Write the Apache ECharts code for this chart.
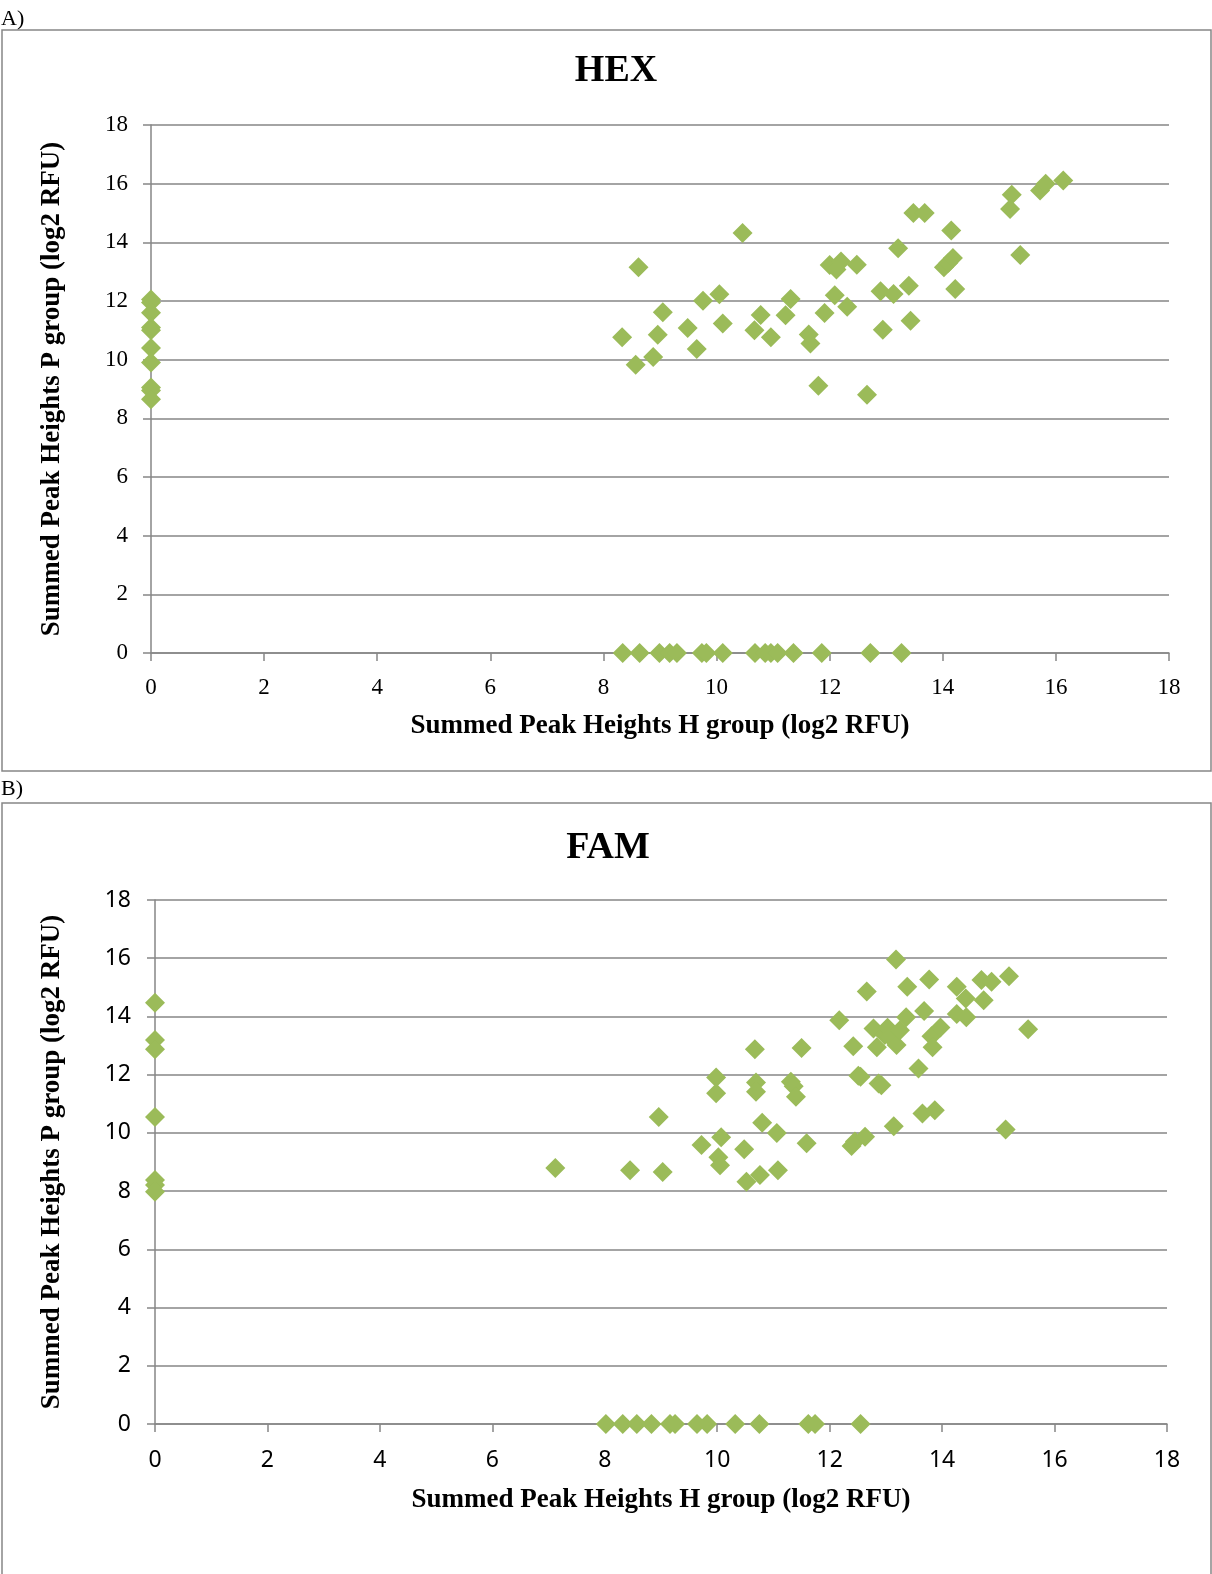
<!DOCTYPE html>
<html>
<head>
<meta charset="utf-8">
<script src="https://cdn.jsdelivr.net/npm/echarts@6/dist/echarts.min.js"></script>
<style>
html,body{margin:0;padding:0;background:#fff;}
#c{width:1212px;height:1574px;}
</style>
</head>
<body>
<div id="c"></div>
<script>
// ---- Data: HEX (panel A) ----
var hexH = [0,0,0,0,0,0,0,0,0,0,
  10.46,8.62,8.33,8.57,8.88,8.96,9.05,9.49,9.65,9.76,10.05,10.11,10.78,10.67,10.96,11.31,11.22,11.63,11.66,11.80,
  11.91,12.00,12.12,12.20,12.48,12.09,12.31,12.66,12.90,13.13,12.94,13.21,13.40,13.43,13.48,13.68,14.15,14.02,14.10,14.18,
  14.22,15.22,15.19,15.37,15.72,15.82,16.13,
  8.34,8.64,8.99,9.17,9.30,9.74,9.82,10.11,10.68,10.86,10.96,11.08,11.36,11.86,12.72,13.27];
var hexP = [12.05,11.95,11.6,11.1,11.0,10.4,9.9,9.05,8.95,8.65,
  14.32,13.15,10.76,9.83,10.09,10.85,11.62,11.08,10.36,12.01,12.23,11.23,11.52,11.00,10.76,12.07,11.51,10.86,10.55,9.11,
  11.59,13.23,13.07,13.35,13.24,12.20,11.80,8.80,12.33,12.24,11.02,13.80,12.52,11.33,15.00,15.00,14.40,13.15,13.30,13.47,
  12.41,15.62,15.14,13.57,15.77,16.00,16.11,
  0,0,0,0,0,0,0,0,0,0,0,0,0,0,0,0];
// ---- Data: FAM (panel B) ----
var famH = [0,0,0,0,0,0,0,
  7.12,8.45,9.03,8.96,9.72,9.98,9.98,10.07,10.02,10.05,10.48,10.52,10.76,10.67,10.69,10.69,10.80,11.06,11.08,11.31,
  11.36,11.40,11.50,11.59,12.17,12.39,12.45,12.63,12.42,12.51,12.55,12.66,12.78,12.84,12.87,12.92,12.98,13.03,13.07,13.14,
  13.18,13.19,13.25,13.36,13.38,13.58,13.65,13.68,13.77,13.81,13.83,13.87,13.97,14.26,14.26,14.42,14.43,14.70,14.74,14.88,
  15.13,15.19,15.53,
  8.02,8.32,8.57,8.83,9.16,9.25,9.64,9.82,10.32,10.75,11.62,11.74,12.55];
var famP = [14.47,13.19,12.87,10.55,8.38,8.21,7.98,
  8.79,8.72,8.66,10.55,9.58,11.90,11.36,9.85,9.16,8.89,9.44,8.32,8.55,12.87,11.73,11.41,10.35,10.00,8.72,11.76,
  11.60,11.24,12.92,9.64,13.87,9.55,9.70,9.87,12.98,11.96,11.93,14.86,13.59,12.94,11.70,11.64,13.36,13.61,13.30,10.23,
  15.96,13.02,13.53,13.97,15.02,12.21,10.67,14.19,15.27,13.32,12.94,10.78,13.62,15.02,14.08,14.62,13.97,15.25,14.56,15.19,
  10.12,15.38,13.56,
  0,0,0,0,0,0,0,0,0,0,0,0,0];
var axisTicks = [0,2,4,6,8,10,12,14,16,18];
var xName = 'Summed Peak Heights H group (log2 RFU)';
var yName = 'Summed Peak Heights P group (log2 RFU)';

function pairs(a,b){ var r=[]; for(var i=0;i<a.length;i++) r.push([a[i],b[i]]); return r; }

var SERIF = '"Liberation Serif","DejaVu Serif",serif';
var SANS = '"Noto Sans","Liberation Sans",sans-serif';
var GRAY = '#868686';
var GREEN = '#9BBB59';

function xAx(idx, font, size, margin, nameGap){
  return {gridIndex: idx, type:'value', min:axisTicks[0], max:axisTicks[axisTicks.length-1], interval:2,
    axisLine:{show:true, onZero:false, lineStyle:{color:GRAY, width:1.5}},
    axisTick:{show:true, length:8, lineStyle:{color:GRAY, width:1.5}},
    splitLine:{show:false},
    axisLabel:{margin:margin, color:'#000', fontFamily:font, fontSize:size},
    name:xName, nameLocation:'middle', nameGap:nameGap,
    nameTextStyle:{color:'#000', fontFamily:SERIF, fontWeight:'bold', fontSize:27}};
}
function yAx(idx, font, size, margin, nameGap){
  return {gridIndex: idx, type:'value', min:axisTicks[0], max:axisTicks[axisTicks.length-1], interval:2,
    axisLine:{show:true, onZero:false, lineStyle:{color:GRAY, width:1.5}},
    axisTick:{show:true, length:8, lineStyle:{color:GRAY, width:1.5}},
    splitLine:{show:true, lineStyle:{color:GRAY, width:1.5}},
    axisLabel:{margin:margin, color:'#000', fontFamily:font, fontSize:size},
    name:yName, nameLocation:'middle', nameGap:nameGap,
    nameTextStyle:{color:'#000', fontFamily:SERIF, fontWeight:'bold', fontSize:27}};
}

var chart = echarts.init(document.getElementById('c'), null, {renderer:'canvas'});
chart.setOption({
  animation:false,
  backgroundColor:'#fff',
  title:[
    {text:'HEX', left:611, top:47, textAlign:'center', textStyle:{fontFamily:SERIF, fontWeight:'bold', fontSize:38, color:'#000'}},
    {text:'FAM', left:603, top:824, textAlign:'center', textStyle:{fontFamily:SERIF, fontWeight:'bold', fontSize:38, color:'#000'}}
  ],
  graphic:[
    {type:'rect', shape:{x:2, y:30, width:1209, height:741}, style:{fill:'none', stroke:GRAY, lineWidth:1.5}, z:-1},
    {type:'rect', shape:{x:2, y:803, width:1209, height:790}, style:{fill:'none', stroke:GRAY, lineWidth:1.5}, z:-1},
    {type:'text', left:1, top:8, style:{text:'A)', font:'22px "Liberation Serif"', fill:'#000'}},
    {type:'text', left:1, top:778, style:{text:'B)', font:'22px "Liberation Serif"', fill:'#000'}}
  ],
  grid:[
    {left:151, top:125, width:1018, height:528},
    {left:155, top:900, width:1012, height:524}
  ],
  xAxis:[xAx(0, SERIF, 23, 23, 60), xAx(1, SANS, 23, 25, 63)],
  yAxis:[yAx(0, SERIF, 23, 23, 85), yAx(1, SANS, 23, 24, 89)],
  series:[
    {type:'scatter', xAxisIndex:0, yAxisIndex:0, data:pairs(hexH,hexP), symbol:'diamond', symbolSize:[20,20],
      itemStyle:{color:GREEN, opacity:1}},
    {type:'scatter', xAxisIndex:1, yAxisIndex:1, data:pairs(famH,famP), symbol:'diamond', symbolSize:[20,20],
      itemStyle:{color:GREEN, opacity:1}}
  ]
});
</script>
</body>
</html>
